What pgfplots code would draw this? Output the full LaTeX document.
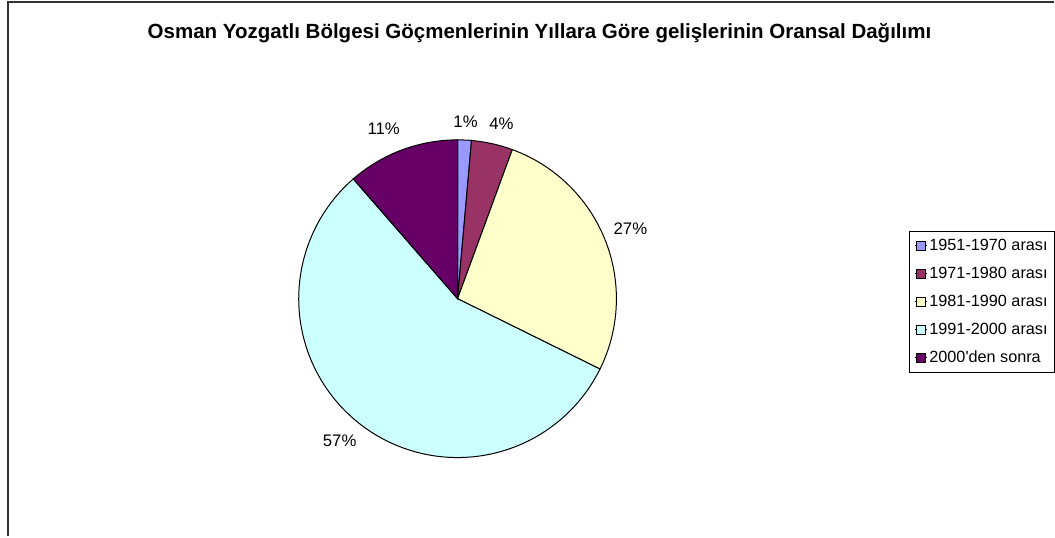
\documentclass[border=0pt]{standalone}
\usepackage{pgfplots}
\pgfplotsset{compat=1.18}
\usepackage{fontspec}
\setmainfont{Liberation Sans}
\definecolor{cA}{HTML}{9999FF}
\definecolor{cB}{HTML}{993366}
\definecolor{cC}{HTML}{FFFFCC}
\definecolor{cD}{HTML}{CCFFFF}
\definecolor{cE}{HTML}{660066}
% shares (percent)
\def\pA{1.4}\def\pB{4.2}\def\pC{26.7}\def\pD{56.3}\def\pE{11.4}
\pgfmathsetmacro\aA{90-3.6*\pA}
\pgfmathsetmacro\aB{\aA-3.6*\pB}
\pgfmathsetmacro\aC{\aB-3.6*\pC}
\pgfmathsetmacro\aD{\aC-3.6*\pD}
\pgfmathsetmacro\aE{\aD-3.6*\pE}
\def\cx{458}\def\cy{238}\def\rr{159}
\begin{document}
\begin{tikzpicture}
\begin{axis}[
  scale only axis, width=1055bp, height=537bp,
  xmin=0, xmax=1055, ymin=0, ymax=537,
  hide axis, clip=false,
  legend style={at={(axis cs:910,306)}, anchor=north west, draw=black, line width=0.6bp,
    font=\fontsize{16.3}{18}\selectfont, inner xsep=5bp, inner ysep=6.5bp, row sep=11bp,
    cells={anchor=west}},
  legend image code/.code={\path (0bp,0bp) -- (12bp,0bp);\draw[#1, draw=black, line width=0.6bp] (1bp,-4.5bp) rectangle (10bp,4.5bp);},
  every axis plot/.append style={draw=black, line width=1bp, variable=\t},
]
\path (axis cs:0,0) rectangle (axis cs:1055,537);
\addplot[fill=cA, domain=\aA:90, samples=5] ({\cx+\rr*cos(t)},{\cy+\rr*sin(t)}) -- (axis cs:\cx,\cy) -- cycle;
\addlegendentry{1951-1970 arası}
\addplot[fill=cB, domain=\aB:\aA, samples=10] ({\cx+\rr*cos(t)},{\cy+\rr*sin(t)}) -- (axis cs:\cx,\cy) -- cycle;
\addlegendentry{1971-1980 arası}
\addplot[fill=cC, domain=\aC:\aB, samples=60] ({\cx+\rr*cos(t)},{\cy+\rr*sin(t)}) -- (axis cs:\cx,\cy) -- cycle;
\addlegendentry{1981-1990 arası}
\addplot[fill=cD, domain=\aD:\aC, samples=120] ({\cx+\rr*cos(t)},{\cy+\rr*sin(t)}) -- (axis cs:\cx,\cy) -- cycle;
\addlegendentry{1991-2000 arası}
\addplot[fill=cE, domain=\aE:\aD, samples=30] ({\cx+\rr*cos(t)},{\cy+\rr*sin(t)}) -- (axis cs:\cx,\cy) -- cycle;
\addlegendentry{2000\textquotesingle den sonra}
\node[font=\fontsize{16.8}{18}\selectfont] at (axis cs:466,415) {1\%};
\node[font=\fontsize{16.8}{18}\selectfont] at (axis cs:502,413) {4\%};
\node[font=\fontsize{16.8}{18}\selectfont] at (axis cs:631,308) {27\%};
\node[font=\fontsize{16.8}{18}\selectfont] at (axis cs:340,96) {57\%};
\node[font=\fontsize{16.8}{18}\selectfont] at (axis cs:384,408) {11\%};
\node[font=\bfseries\fontsize{20.6}{22}\selectfont] at (axis cs:540,504) {Osman Yozgatlı Bölgesi Göçmenlerinin Yıllara Göre gelişlerinin Oransal Dağılımı};
\draw[line width=2bp, black!80] (axis cs:8,0) -- (axis cs:8,535) -- (axis cs:1055,535);
\end{axis}
\end{tikzpicture}
\end{document}
